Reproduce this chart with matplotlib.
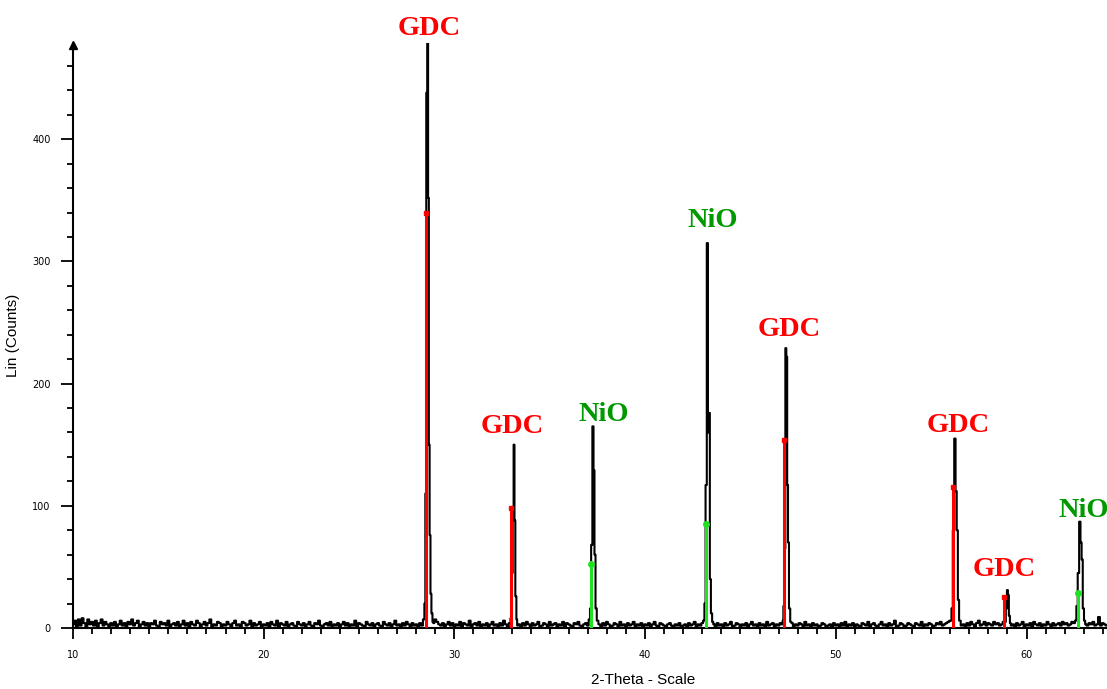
import matplotlib
matplotlib.use("Agg")
import matplotlib.pyplot as plt
import numpy as np

# background counts, one value every 0.1 deg from 10.0 to 64.2
bg_start = 10.0
bg_step = 0.1
background = [
    3, 6, 1, 7, 2, 8, 4, 1, 7, 3, 5, 2, 6, 1, 4, 7, 2, 5, 3, 1,
    4, 2, 5, 1, 3, 6, 2, 4, 1, 5, 3, 7, 2, 4, 6, 1, 3, 5, 2, 4,
    1, 4, 3, 6, 2, 1, 5, 3, 4, 2, 6, 1, 3, 4, 2, 5, 1, 3, 6, 2,
    4, 1, 5, 3, 2, 6, 4, 1, 3, 5, 2, 4, 7, 1, 3, 2, 5, 4, 1, 3,
    2, 5, 3, 1, 4, 6, 2, 3, 1, 5, 4, 2, 3, 6, 1, 4, 2, 3, 5, 1,
    3, 2, 4, 1, 5, 3, 2, 6, 1, 4, 3, 2, 5, 1, 3, 4, 2, 1, 5, 3,
    2, 4, 1, 3, 5, 2, 1, 4, 3, 6, 2, 1, 3, 4, 2, 5, 1, 3, 2, 4,
    1, 3, 5, 2, 4, 1, 3, 2, 6, 1, 4, 3, 2, 1, 5, 3, 2, 4, 1, 3,
    4, 2, 1, 5, 3, 2, 4, 1, 3, 6, 2, 3, 1, 4, 2, 5, 3, 1, 4, 2,
    3, 1, 4, 2, 5, 3, 2, 4, 6, 4, 7, 5, 3, 2, 4, 1, 3, 5, 2, 4,
    1, 3, 2, 5, 1, 4, 3, 2, 6, 1, 3, 4, 2, 5, 1, 3, 2, 4, 1, 3,
    5, 2, 3, 1, 4, 2, 6, 3, 1, 4, 3, 5, 4, 2, 3, 1, 4, 2, 5, 3,
    1, 4, 2, 3, 5, 1, 2, 4, 3, 1, 5, 2, 3, 4, 1, 3, 2, 5, 1, 4,
    3, 2, 1, 4, 3, 5, 2, 1, 3, 4, 2, 5, 3, 6, 4, 2, 3, 1, 4, 2,
    5, 3, 1, 2, 4, 3, 1, 5, 2, 3, 1, 4, 2, 3, 5, 1, 3, 2, 4, 1,
    3, 2, 4, 1, 3, 5, 2, 1, 4, 3, 2, 1, 3, 4, 2, 1, 3, 2, 4, 1,
    2, 3, 1, 4, 2, 3, 5, 1, 3, 2, 4, 3, 5, 3, 4, 2, 3, 1, 4, 2,
    3, 1, 4, 2, 3, 5, 1, 2, 4, 3, 1, 3, 2, 4, 1, 3, 5, 2, 3, 1,
    4, 2, 3, 1, 5, 2, 3, 4, 1, 3, 2, 4, 3, 5, 4, 3, 2, 4, 1, 3,
    2, 4, 3, 1, 5, 2, 3, 1, 4, 2, 3, 1, 2, 4, 3, 1, 2, 3, 1, 4,
    2, 3, 1, 4, 2, 5, 1, 3, 2, 4, 1, 3, 2, 1, 4, 3, 2, 5, 1, 3,
    4, 2, 1, 3, 5, 2, 3, 1, 4, 2, 3, 6, 1, 2, 4, 3, 1, 2, 4, 3,
    2, 1, 4, 3, 2, 5, 1, 3, 2, 4, 3, 1, 2, 4, 3, 5, 2, 3, 4, 5,
    6, 4, 5, 3, 7, 4, 2, 3, 1, 4, 2, 5, 3, 1, 4, 6, 2, 3, 5, 2,
    4, 3, 2, 5, 3, 4, 2, 3, 5, 4, 3, 4, 2, 3, 1, 4, 2, 3, 5, 1,
    3, 2, 4, 1, 5, 3, 2, 4, 1, 3, 2, 5, 3, 1, 4, 2, 3, 4, 2, 5,
    3, 4, 2, 3, 5, 4, 6, 4, 3, 5, 4, 3, 2, 4, 3, 5, 2, 3, 9, 2,
    4, 3, 2,
]

# measured peak profiles (2-theta, counts)
peak_2theta = [
    [28.40, 28.45, 28.50, 28.55, 28.60, 28.64, 28.68, 28.72, 28.77, 28.82, 28.88],
    [32.98, 33.03, 33.08, 33.13, 33.17, 33.22, 33.28],
    [37.08, 37.14, 37.20, 37.27, 37.32, 37.37, 37.43, 37.50],
    [43.08, 43.14, 43.20, 43.27, 43.32, 43.37, 43.42, 43.48, 43.55],
    [47.22, 47.28, 47.33, 47.38, 47.43, 47.47, 47.52, 47.57, 47.65],
    [56.03, 56.10, 56.17, 56.25, 56.31, 56.37, 56.43, 56.50],
    [58.88, 58.95, 59.00, 59.05, 59.10, 59.16],
    [62.58, 62.65, 62.72, 62.80, 62.86, 62.92, 62.98, 63.05],
]
peak_counts = [
    [7, 20, 110, 438, 484, 352, 150, 76, 28, 12, 5],
    [8, 45, 98, 150, 88, 26, 7],
    [7, 16, 68, 165, 129, 60, 16, 6],
    [6, 20, 117, 315, 160, 176, 40, 12, 5],
    [6, 18, 65, 229, 222, 117, 70, 16, 5],
    [6, 16, 80, 155, 112, 80, 23, 6],
    [5, 16, 31, 27, 10, 4],
    [6, 18, 45, 87, 70, 56, 16, 6],
]

# reference pattern sticks
gdc_pos = [28.51, 32.97, 47.30, 56.13, 58.82]
gdc_int = [340, 98, 154, 115, 25]
nio_pos = [37.16, 43.19, 62.68]
nio_int = [52, 85, 29]

# peak labels: text, colour, offset in points from the peak top (layout)
label_text = ["GDC", "GDC", "NiO", "NiO", "GDC", "GDC", "GDC", "NiO"]
label_color = ["#ff0000", "#ff0000", "#009a00", "#009a00",
               "#ff0000", "#ff0000", "#ff0000", "#009a00"]
label_offset = [(1, -3), (-1, 4), (8, -0.5), (3.5, 7), (2.5, 4.5), (2, 0.3), (-2, 5.5), (2.5, -1)]

# build the scan: background everywhere except inside the peak windows
bg_x = bg_start + bg_step * np.arange(len(background))
bg_y = np.array(background, dtype=float)
keep = np.ones(len(bg_x), dtype=bool)
for xs in peak_2theta:
    keep &= ~((bg_x >= xs[0]) & (bg_x <= xs[-1]))
scan_x = np.concatenate([bg_x[keep]] + [np.array(p) for p in peak_2theta])
scan_y = np.concatenate([bg_y[keep]] + [np.array(c, dtype=float) for c in peak_counts])
order = np.argsort(scan_x)
scan_x = scan_x[order]
scan_y = scan_y[order]

fig = plt.figure(figsize=(11.07, 6.89), dpi=100)
ax = fig.add_axes([73 / 1107, 61 / 689, 1 - 73 / 1107, (628 - 43) / 689])

ax.plot(scan_x, scan_y, color="black", lw=1.5, drawstyle="steps-mid", zorder=3)

ax.vlines(gdc_pos, 0, gdc_int, color="#ff0000", lw=2.2, zorder=4)
ax.plot(gdc_pos, gdc_int, ls="none", marker="s", ms=3.5, color="#ff0000", zorder=4)
ax.vlines(nio_pos, 0, nio_int, color="#22e022", lw=2.2, zorder=4)
ax.plot(nio_pos, nio_int, ls="none", marker="o", ms=4, color="#22e022", zorder=4)

for k, txt in enumerate(label_text):
    px = peak_2theta[k][int(np.argmax(peak_counts[k]))]
    py = max(peak_counts[k])
    ax.annotate(txt, (px, py), xytext=label_offset[k], textcoords="offset points",
                ha="center", va="bottom", color=label_color[k],
                fontsize=20.5, fontweight="bold", family="Liberation Serif",
                annotation_clip=False)

ax.set_xlim(10, 10 + (1107 - 73) / 19.07)
ax.set_ylim(0, (628 - 43) / 1.222)
ax.spines["top"].set_visible(False)
ax.spines["right"].set_visible(False)
ax.spines["left"].set_linewidth(1.5)
ax.spines["bottom"].set_linewidth(1.5)

ax.set_xticks(np.arange(10, 61, 10))
ax.set_xticks(np.arange(10, 65, 1), minor=True)
ax.set_yticks(np.arange(0, 401, 100))
ax.set_yticks(np.arange(0, 477, 20), minor=True)
ax.tick_params(which="major", direction="out", length=8, width=1.3, labelsize=7,
               pad=8)
ax.tick_params(which="minor", direction="out", length=4, width=1.3)
ax.tick_params(axis="y", which="major", length=9, pad=7)

# arrow head on the y axis
ax.plot([0], [0.997], marker="^", ms=6, color="black", transform=ax.transAxes,
        clip_on=False)

ax.set_xlabel("2-Theta - Scale", fontsize=11, family="Liberation Sans")
ax.set_ylabel("Lin (Counts)", fontsize=11, family="Liberation Sans")
ax.xaxis.set_label_coords((643 - 73) / 1034, -(673 - 628) / 585)
ax.yaxis.set_label_coords(-(73 - 20) / 1034, 0.5)

fig.savefig("out.png", dpi=100)
